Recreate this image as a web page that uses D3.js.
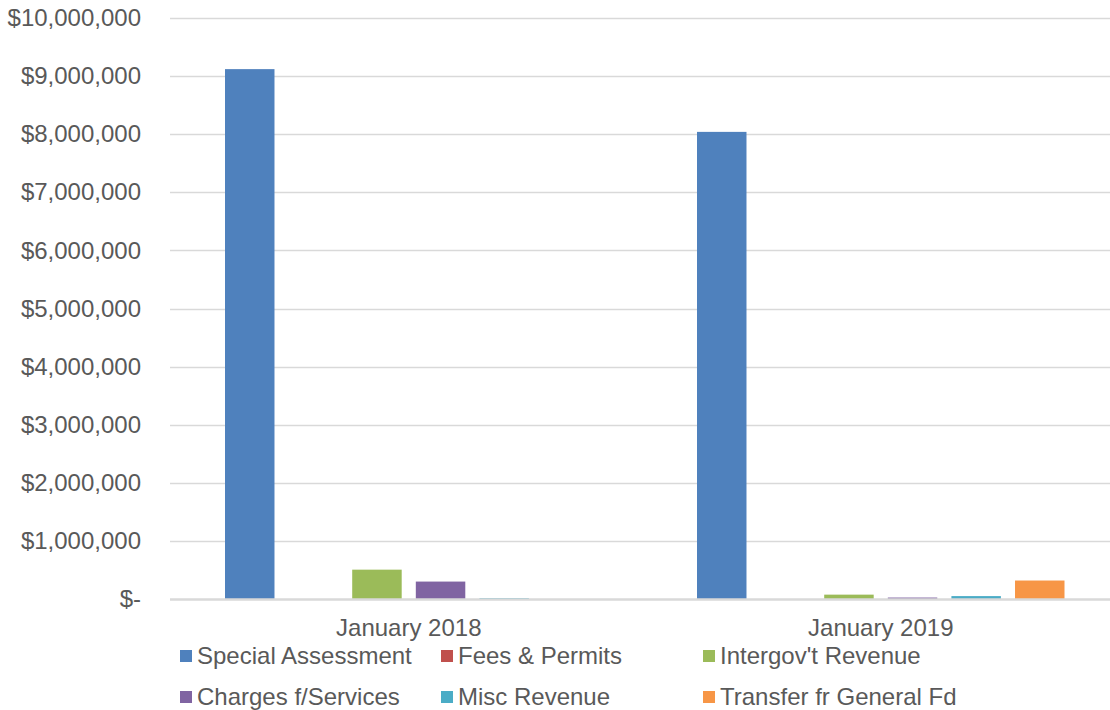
<!DOCTYPE html>
<html>
<head>
<meta charset="utf-8">
<script src="https://cdn.jsdelivr.net/npm/d3@7/dist/d3.min.js"></script>
<style>
  html, body { margin: 0; padding: 0; background: #ffffff; }
  svg { display: block; font-family: "Liberation Sans", Arial, sans-serif; }
</style>
</head>
<body>
<svg id="chart" width="1110" height="710"></svg>
<script>
// Revenue by source, January of each year
const categories = ["January 2018", "January 2019"];
const seriesNames = ["Special Assessment", "Fees & Permits", "Intergov't Revenue",
                     "Charges f/Services", "Misc Revenue", "Transfer fr General Fd"];
const specialAssessment = [9120000, 8040000];
const feesPermits       = [0, 0];
const intergovRevenue   = [505000, 75000];
const chargesServices   = [300000, 25000];
const miscRevenue       = [15000, 50000];
const transferGeneral   = [0, 318000];
const yTicks = [0, 1000000, 2000000, 3000000, 4000000, 5000000, 6000000, 7000000, 8000000, 9000000, 10000000];
const colors = ["#4f81bd", "#c0504d", "#9bbb59", "#8064a2", "#4bacc6", "#f79646"];

const seriesValues = [specialAssessment, feesPermits, intergovRevenue, chargesServices, miscRevenue, transferGeneral];

const svg = d3.select("#chart");
const plotLeft = 170, plotRight = 1110, plotTop = 18, plotBottom = 599;
const fontSize = 24;

const y = d3.scaleLinear().domain([0, 10000000]).range([plotBottom, plotTop]);
// category bands run slightly past the right edge of the canvas
const x0 = d3.scaleBand().domain(categories).range([172.75, 1116.75]).padding(0);
const bw = x0.bandwidth();
const x1 = d3.scaleBand().domain(seriesNames)
  .range([bw * 0.1107, bw * 0.8893]).paddingInner(0.222).paddingOuter(0);

const fmt = v => v === 0 ? "$-" : "$" + d3.format(",")(v);

// gridlines
svg.append("g").selectAll("line").data(yTicks.filter(t => t > 0)).join("line")
  .attr("x1", plotLeft).attr("x2", plotRight)
  .attr("y1", d => Math.round(y(d)) + 0.5).attr("y2", d => Math.round(y(d)) + 0.5)
  .attr("stroke", "#d9d9d9").attr("stroke-width", 1.3);

// y-axis labels
const yAxis = d3.axisLeft(y).tickValues(yTicks).tickFormat(fmt).tickSize(0).tickPadding(0);
const gy = svg.append("g").attr("transform", `translate(141,0)`).call(yAxis);
gy.select(".domain").remove();
gy.selectAll("text").attr("font-size", fontSize).attr("fill", "#595959")
  .attr("font-family", "Liberation Sans, Arial, sans-serif");

// bars
const groups = svg.append("g").selectAll("g").data(categories).join("g")
  .attr("transform", d => `translate(${x0(d)},0)`);
groups.selectAll("rect")
  .data((c, ci) => seriesNames.map((s, si) => ({ s, v: seriesValues[si][ci], color: colors[si] })))
  .join("rect")
  .attr("x", d => x1(d.s))
  .attr("width", x1.bandwidth())
  .attr("y", d => y(d.v))
  .attr("height", d => plotBottom - y(d.v))
  .attr("fill", d => d.color);

// baseline
svg.append("line").attr("x1", plotLeft).attr("x2", plotRight)
  .attr("y1", plotBottom + 0.5).attr("y2", plotBottom + 0.5)
  .attr("stroke", "#d9d9d9").attr("stroke-width", 2.5);

// category labels
const xAxis = d3.axisBottom(x0).tickSize(0).tickPadding(0);
const gx = svg.append("g").attr("transform", `translate(0,${plotBottom + 37})`).call(xAxis);
gx.select(".domain").remove();
gx.selectAll("text").attr("font-size", fontSize).attr("fill", "#595959").attr("dy", 0)
  .attr("font-family", "Liberation Sans, Arial, sans-serif");

// legend
const legendX = [180, 441, 703];
const legendY = [656, 697];
const legend = svg.append("g").selectAll("g").data(seriesNames).join("g")
  .attr("transform", (d, i) => `translate(${legendX[i % 3]},${legendY[Math.floor(i / 3)]})`);
legend.append("rect").attr("x", 0).attr("y", -6).attr("width", 12).attr("height", 12)
  .attr("fill", (d, i) => colors[i]);
legend.append("text").attr("x", 17).attr("y", 0).attr("dy", "0.35em")
  .attr("font-size", fontSize).attr("fill", "#595959").text(d => d);
</script>
</body>
</html>
